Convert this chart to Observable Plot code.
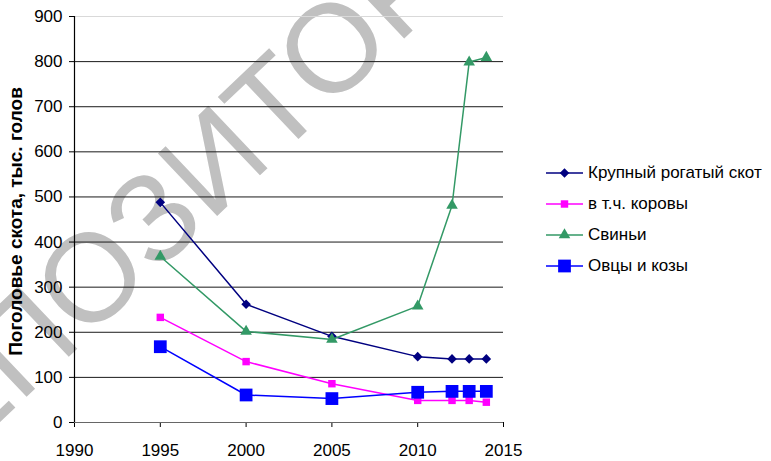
<!DOCTYPE html>
<html>
<head>
<meta charset="utf-8">
<script src="https://cdn.jsdelivr.net/npm/d3@7"></script>
<script src="https://cdn.jsdelivr.net/npm/@observablehq/plot@0.6"></script>
<style>
  html, body { margin: 0; padding: 0; background: #fff; }
  #wrap { position: relative; width: 771px; height: 461px; overflow: hidden; font-family: "Liberation Sans", Arial, sans-serif; }
  #legend { position: absolute; left: 545px; top: 157px; font-size: 17px; color: #000; }
  .item { display: flex; align-items: center; height: 31px; }
  .item svg { margin-right: 3px; }
</style>
</head>
<body>
<div id="wrap"><div id="chart"></div><div id="legend"></div></div>
<script>
const years = [1995, 2000, 2005, 2010, 2012, 2013, 2014];
const cattle = [488, 262, 191, 146, 141, 141, 141];
const cows = [233, 135, 86, 49, 49, 49, 45];
const pigs = [368, 202, 184, 258, 481, 799, 809];
const sheep = [168, 61, 53, 67, 69, 69, 69];
const seriesNames = ["Крупный рогатый скот", "в т.ч. коровы", "Свиньи", "Овцы и козы"];
const seriesColors = ["#000080", "#FF00FF", "#339966", "#0000FF"];
const seriesSymbols = ["diamond2", "square", "triangle", "square"];
const seriesR = [4.3, 4.2, 4.3, 7.2];
const xTicks = [1990, 1995, 2000, 2005, 2010, 2015];
const yTicks = [0, 100, 200, 300, 400, 500, 600, 700, 800, 900];
const yTitle = "Поголовье скота, тыс. голов";
const watermark = "РЕПОЗИТОРИЙ";

const allValues = [cattle, cows, pigs, sheep];
const seriesData = allValues.map((vals, i) =>
  years.map((yr, j) => ({year: yr, value: vals[j], series: seriesNames[i]})));

const marks = [
  Plot.ruleY(yTicks.filter(d => d > 0 && d < 900), {stroke: "#1a1a1a", strokeWidth: 1}),
  Plot.ruleY([900], {stroke: "#d9d9d9", strokeWidth: 1}),
  Plot.ruleY([0], {stroke: "#666", strokeWidth: 1.2}),
  Plot.ruleX([1990], {stroke: "#000", strokeWidth: 1.2}),
  Plot.text([yTitle], {frameAnchor: "left", textAnchor: "middle", lineAnchor: "middle", rotate: -90, dx: -59, dy: 2, fontWeight: "bold", fontSize: 19, fill: "#000"})
];
seriesData.forEach((data, i) => {
  marks.push(Plot.line(data, {x: "year", y: "value", stroke: seriesColors[i], strokeWidth: 1.5}));
  marks.push(Plot.dot(data, {x: "year", y: "value", symbol: () => seriesSymbols[i], fill: seriesColors[i], stroke: "none", r: seriesR[i]}));
});

const chart = Plot.plot({
  width: 530,
  height: 461,
  marginLeft: 74,
  marginRight: 27,
  marginTop: 16,
  marginBottom: 39,
  style: {fontSize: "17px", fontFamily: "'Liberation Sans', Arial, sans-serif", color: "#000", background: "transparent", overflow: "visible"},
  x: {domain: [1990, 2015], ticks: xTicks, tickFormat: d => String(d), tickSize: 5, tickPadding: 16, label: null},
  y: {domain: [0, 900], ticks: yTicks, tickFormat: d => String(d), tickSize: 5, tickPadding: 7, label: null},
  symbol: {type: "identity"},
  marks
});
document.getElementById("chart").appendChild(chart);

// watermark behind everything
d3.select(chart).insert("text", ":first-child")
  .attr("transform", "translate(213,160) rotate(-43.5)")
  .attr("text-anchor", "middle")
  .attr("dominant-baseline", "central")
  .attr("font-size", 125)
  .attr("font-family", "'Liberation Sans', Arial, sans-serif")
  .attr("fill", "#c0c0c0")
  .text(watermark);

// legend
const legend = d3.select("#legend");
const symMap = {diamond2: d3.symbolDiamond2, square: d3.symbolSquare, triangle: d3.symbolTriangle};
seriesNames.forEach((name, i) => {
  const item = legend.append("div").attr("class", "item");
  const s = item.append("svg").attr("width", 40).attr("height", 20);
  s.append("line").attr("x1", 1).attr("x2", 38).attr("y1", 10).attr("y2", 10)
    .attr("stroke", seriesColors[i]).attr("stroke-width", 1.5);
  s.append("path").attr("transform", "translate(19.5,10)")
    .attr("d", d3.symbol(symMap[seriesSymbols[i]], Math.PI * seriesR[i] * seriesR[i])())
    .attr("fill", seriesColors[i]);
  item.append("span").text(name);
});
</script>
</body>
</html>
